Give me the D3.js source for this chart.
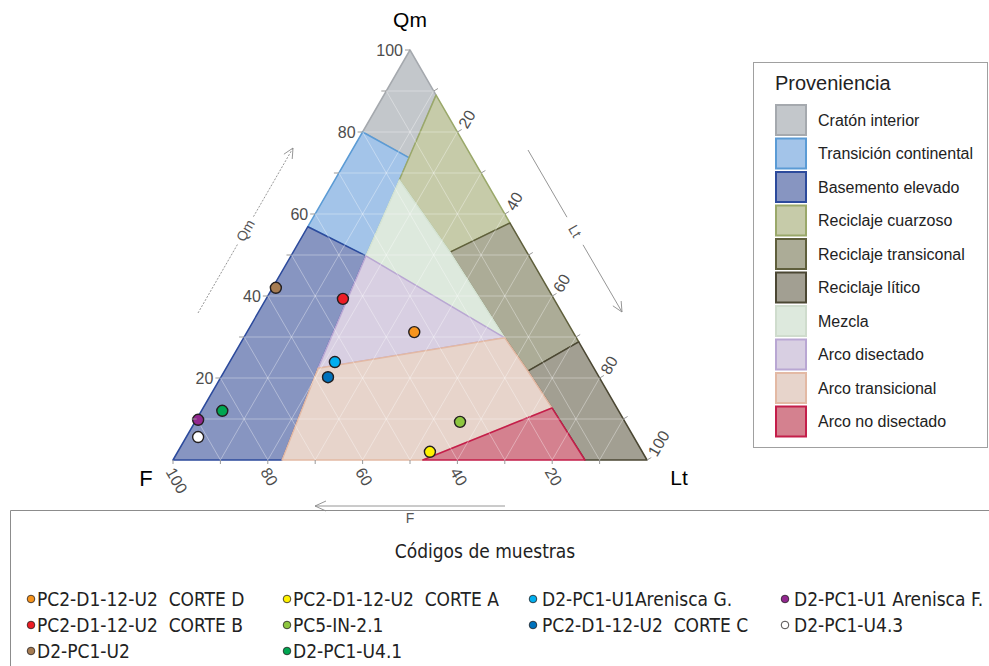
<!DOCTYPE html>
<html lang="es">
<head>
<meta charset="UTF-8">
<title>Proveniencia QmFLt</title>
<style>
  body { margin: 0; background: #fff; }
  svg text { font-family: "Liberation Sans", Arial, sans-serif; }
  .codes text { font-family: "Liberation Sans Narrow", "DejaVu Sans Condensed", sans-serif; white-space: pre; }
</style>
</head>
<body>
<div id="chart"></div>
<script src="https://d3js.org/d3.v7.min.js"></script>
<script>
// provenance fields, vertices as [Qm, F, Lt]
const fieldNames = ["Cratón interior", "Transición continental", "Basemento elevado", "Reciclaje cuarzoso",
  "Reciclaje transiconal", "Reciclaje lítico", "Mezcla", "Arco disectado", "Arco transicional", "Arco no disectado"];
const cratonPts = [[100, 0, 0], [80, 20, 0], [73.7, 13.3, 13.0], [89, 0, 11]];
const transContPts = [[80, 20, 0], [56.9, 43.1, 0], [49.8, 34.4, 15.8], [73.7, 13.3, 13.0]];
const basementPts = [[56.9, 43.1, 0], [0, 100, 0], [0, 77, 23], [22.4, 58.2, 19.4], [49.8, 34.4, 15.8]];
const quartzRecPts = [[89, 0, 11], [57.8, 0, 42.2], [50.7, 16.2, 33.1], [68.3, 18.1, 13.6]];
const transRecPts = [[57.8, 0, 42.2], [28.8, 0, 71.2], [21.7, 14.3, 64], [29.8, 15.1, 55.1], [50.7, 16.2, 33.1]];
const lithicRecPts = [[28.8, 0, 71.2], [0, 0, 100], [0, 13.1, 86.9], [12.7, 13.7, 73.6], [21.7, 14.3, 64]];
const mixedPts = [[68.3, 18.1, 13.6], [50.7, 16.2, 33.1], [29.8, 15.1, 55.1], [49.8, 34.4, 15.8]];
const dissArcPts = [[49.8, 34.4, 15.8], [29.8, 15.1, 55.1], [22.4, 58.2, 19.4]];
const transArcPts = [[22.4, 58.2, 19.4], [29.8, 15.1, 55.1], [21.7, 14.3, 64], [12.7, 13.7, 73.6], [0, 47.3, 52.7], [0, 77, 23]];
const undissArcPts = [[12.7, 13.7, 73.6], [0, 13.1, 86.9], [0, 47.3, 52.7]];

// draw order (later strokes sit on top)
const drawOrder = [0, 1, 2, 3, 4, 5, 6, 7, 8, 9];
const fieldPolys = [cratonPts, transContPts, basementPts, quartzRecPts, transRecPts, lithicRecPts,
  mixedPts, dissArcPts, transArcPts, undissArcPts];
const fieldFill = ["#c3c7cb", "#a3c4e9", "#8795c1", "#c6cba9", "#acac97", "#a29f92", "#dde9dd", "#d8cfe2", "#e7d4cb", "#d4818f"];
const fieldStroke = ["#a5a9ae", "#5b9bd5", "#2c4a9c", "#9aa86a", "#5f5f3c", "#4b4733", "#d5e3d3", "#b9a7d3", "#e3b9a4", "#c41e4a"];

// samples
const sampleNames = ["PC2-D1-12-U2  CORTE D", "PC2-D1-12-U2  CORTE B", "D2-PC1-U2",
  "PC2-D1-12-U2  CORTE A", "PC5-IN-2.1", "D2-PC1-U4.1",
  "D2-PC1-U1Arenisca G.", "PC2-D1-12-U2  CORTE C",
  "D2-PC1-U1 Arenisca F.", "D2-PC1-U4.3"];
const sampleQm = [31.2, 39.3, 42.0, 2.0, 9.3, 12.0, 23.9, 20.2, 9.8, 5.6];
const sampleF = [33.5, 44.5, 57.3, 44.8, 34.8, 83.6, 53.9, 57.2, 89.8, 91.9];
const sampleLt = [35.3, 16.2, 0.7, 53.2, 55.9, 4.4, 22.2, 22.6, 0.4, 2.5];
const sampleColors = ["#f7941d", "#ed1c24", "#a67c52", "#fff200", "#8dc63f", "#00a651", "#00aeef", "#0072bc", "#92278f", "#ffffff"];
const legendColumns = [[0, 1, 2], [3, 4, 5], [6, 7], [8, 9]];

const tickValues = d3.range(10, 101, 10);
const tickLabels = [20, 40, 60, 80, 100];
const gridValues = d3.range(10, 100, 10);

const W = 989, H = 666;
const svg = d3.select("#chart").append("svg").attr("width", W).attr("height", H);

// ternary -> screen: x from (Lt + Qm/2), y from Qm
const xScale = d3.scaleLinear().domain([0, 100]).range([173, 647]);
const yScale = d3.scaleLinear().domain([0, 100]).range([460, 50]);
function pt(c) {
  const s = c[0] + c[1] + c[2];
  const qm = c[0] * 100 / s, lt = c[2] * 100 / s;
  return [xScale(lt + qm / 2), yScale(qm)];
}

const plot = svg.append("g");

drawOrder.forEach(function(i) {
  plot.append("polygon")
    .attr("points", fieldPolys[i].map(pt).map(p => p.join(",")).join(" "))
    .attr("fill", fieldFill[i])
    .attr("stroke", fieldStroke[i])
    .attr("stroke-width", 1.5)
    .attr("stroke-linejoin", "round");
});

// grid
const grid = plot.append("g").attr("stroke", "#fff").attr("stroke-opacity", 0.35).attr("stroke-width", 1);
gridValues.forEach(function(v) {
  [[[v, 100 - v, 0], [v, 0, 100 - v]],
   [[100 - v, v, 0], [0, v, 100 - v]],
   [[100 - v, 0, v], [0, 100 - v, v]]].forEach(function(seg) {
    const a = pt(seg[0]), b = pt(seg[1]);
    grid.append("line").attr("x1", a[0]).attr("y1", a[1]).attr("x2", b[0]).attr("y2", b[1]);
  });
});

// ticks and labels
const axisG = svg.append("g").attr("fill", "#4d4d4d").attr("font-size", 16);
tickValues.forEach(function(v) {
  // Qm on left edge
  let p = pt([v, 100 - v, 0]);
  axisG.append("line").attr("x1", p[0] - 5).attr("y1", p[1]).attr("x2", p[0]).attr("y2", p[1]).attr("stroke", "#999");
  // F on bottom edge
  p = pt([0, v, 100 - v]);
  axisG.append("line").attr("x1", p[0]).attr("y1", p[1]).attr("x2", p[0]).attr("y2", p[1] + 4).attr("stroke", "#999");
  // Lt on right edge
  p = pt([100 - v, 0, v]);
  axisG.append("line").attr("x1", p[0]).attr("y1", p[1]).attr("x2", p[0] + 4.3).attr("y2", p[1] - 2.5).attr("stroke", "#999");
});
tickLabels.forEach(function(v) {
  let p = pt([v, 100 - v, 0]);
  axisG.append("text").attr("x", p[0] - 7).attr("y", p[1]).attr("dy", "0.35em").attr("text-anchor", "end").text(v);
  p = pt([0, v, 100 - v]);
  axisG.append("text").attr("transform", `translate(${p[0] - 3},${p[1] + 9}) rotate(60)`)
    .attr("dy", "0.35em").text(v);
  p = pt([100 - v, 0, v]);
  axisG.append("text").attr("transform", `translate(${p[0] + 5},${p[1] - 5}) rotate(-60)`)
    .attr("dy", "0.35em").text(v);
});

// vertex names
svg.append("text").attr("x", 410).attr("y", 27).attr("text-anchor", "middle").attr("font-size", 21).text("Qm");
svg.append("text").attr("x", 146).attr("y", 486).attr("text-anchor", "middle").attr("font-size", 22).text("F");
svg.append("text").attr("x", 679).attr("y", 485).attr("text-anchor", "middle").attr("font-size", 21).text("Lt");

// direction arrows
const arrowG = svg.append("g").attr("stroke", "#8a8a8a").attr("stroke-width", 0.9).attr("fill", "none");
function arrow(x1, y1, x2, y2, label, angle, dash) {
  const dx = x2 - x1, dy = y2 - y1, len = Math.hypot(dx, dy);
  const ux = dx / len, uy = dy / len;
  const mx = (x1 + x2) / 2, my = (y1 + y2) / 2, gap = 16;
  arrowG.append("line").attr("x1", x1).attr("y1", y1).attr("x2", mx - ux * gap).attr("y2", my - uy * gap)
    .attr("stroke-dasharray", dash);
  arrowG.append("line").attr("x1", mx + ux * gap).attr("y1", my + uy * gap).attr("x2", x2).attr("y2", y2)
    .attr("stroke-dasharray", dash);
  const hl = 11, ha = 0.45;
  [ha, -ha].forEach(function(a) {
    const c = Math.cos(a), s = Math.sin(a);
    const bx = -(ux * c - uy * s), by = -(ux * s + uy * c);
    arrowG.append("line").attr("x1", x2).attr("y1", y2).attr("x2", x2 + bx * hl).attr("y2", y2 + by * hl);
  });
  svg.append("text").attr("transform", `translate(${mx},${my}) rotate(${angle})`)
    .attr("text-anchor", "middle").attr("dy", "0.35em").attr("font-size", 14).attr("fill", "#555").text(label);
}
arrow(198, 313, 293, 148, "Qm", -60, "2,1.5");
arrow(528, 150, 622, 312, "Lt", 60, null);
// F arrow: label under line
arrowG.append("line").attr("x1", 505).attr("y1", 506).attr("x2", 315).attr("y2", 506);
arrowG.append("line").attr("x1", 315).attr("y1", 506).attr("x2", 326).attr("y2", 501);
arrowG.append("line").attr("x1", 315).attr("y1", 506).attr("x2", 326).attr("y2", 511);
svg.append("text").attr("x", 410).attr("y", 523).attr("text-anchor", "middle").attr("font-size", 14).attr("fill", "#555").text("F");

// samples
plot.selectAll("circle.sample")
  .data(d3.range(sampleNames.length))
  .enter().append("circle")
  .attr("class", "sample")
  .attr("cx", i => pt([sampleQm[i], sampleF[i], sampleLt[i]])[0])
  .attr("cy", i => pt([sampleQm[i], sampleF[i], sampleLt[i]])[1])
  .attr("r", 5.5)
  .attr("fill", i => sampleColors[i])
  .attr("stroke", "#231f20")
  .attr("stroke-width", 1.4);

// provenance legend
const leg = svg.append("g");
leg.append("rect").attr("x", 753.5).attr("y", 62.5).attr("width", 234).attr("height", 385)
  .attr("fill", "#fff").attr("stroke", "#a0a0a0");
leg.append("text").attr("x", 775).attr("y", 90).attr("font-size", 20).attr("fill", "#222").text("Proveniencia");
fieldNames.forEach(function(name, i) {
  const cy = 120 + i * 33.5;
  leg.append("rect").attr("x", 776).attr("y", cy - 15).attr("width", 30).attr("height", 30)
    .attr("fill", fieldFill[i]).attr("stroke", fieldStroke[i] === "#d5e3d3" ? "#cfdccd" : fieldStroke[i]).attr("stroke-width", 2);
  leg.append("text").attr("x", 818).attr("y", cy).attr("dy", "0.35em").attr("font-size", 16).attr("fill", "#222").text(name);
});

// sample code legend
const codes = svg.append("g").attr("class", "codes");
codes.append("path").attr("d", "M10.5,666 V510.5 H989").attr("fill", "none").attr("stroke", "#8c8c8c");
codes.append("text").attr("x", 485).attr("y", 558).attr("text-anchor", "middle").attr("font-size", 19).attr("fill", "#222").text("Códigos de muestras");
const colX = [31, 287, 533, 785];
const rowY = [599, 625, 651];
legendColumns.forEach(function(col, c) {
  col.forEach(function(i, r) {
    codes.append("circle").attr("cx", colX[c]).attr("cy", rowY[r]).attr("r", 3.8)
      .attr("fill", sampleColors[i]).attr("stroke", "#231f20").attr("stroke-width", 0.8);
    codes.append("text").attr("x", colX[c] + (c >= 2 ? 9 : 6)).attr("y", rowY[r]).attr("dy", "0.35em")
      .attr("font-size", 19).attr("fill", "#222").text(sampleNames[i]);
  });
});
</script>
</body>
</html>
